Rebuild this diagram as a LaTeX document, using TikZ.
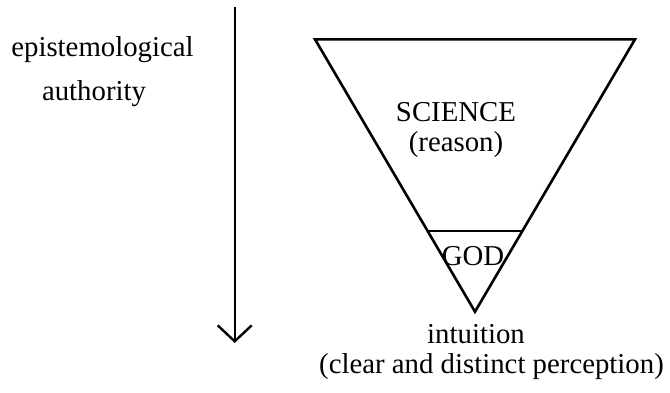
\documentclass[tikz,border=0pt]{standalone}
\usepackage{fontspec}
\setmainfont{Liberation Serif}
\usetikzlibrary{arrows.meta,calc}
\tikzset{
  lbl/.style={anchor=base,inner sep=0pt,font=\fontsize{14.4}{17}\selectfont},
  shape line/.style={line width=1.3pt,line join=miter},
  axis arrow/.style={line width=1.2pt,-{Straight Barb[length=8pt,width=17pt,line width=1.2pt]}}
}
\begin{document}
\begin{tikzpicture}[x=0.5pt,y=-0.5pt]
\useasboundingbox (0,0) rectangle (670,392);
% arrow
\coordinate (atop) at (234.7,7);
\coordinate (abot) at (234.7,343);
\draw[axis arrow] (atop) -- (abot);
% labels left
\node[lbl] (epi) at (102.5,56.7) {epistemological};
\node[lbl] (auth) at (94,100) {authority};
% triangle
\coordinate (tl) at (315,39.3);
\coordinate (tr) at (635,39.3);
\coordinate (ap) at (475,311.7);
\draw[shape line] (tl) -- (tr) -- (ap) -- cycle;
\coordinate (gl) at ($(tl)!0.703!(ap)$);
\coordinate (gr) at ($(tr)!0.703!(ap)$);
\draw[shape line] (gl) -- (gr);
% inner labels
\node[lbl] (sci) at (456,121.7) {SCIENCE};
\node[lbl] (rea) at (456,151.7) {(reason)};
\node[lbl] (god) at (473,265) {GOD};
\node[lbl] (int) at (476,343) {intuition};
\node[lbl] (cdp) at (491.5,373) {(clear and distinct perception)};
\end{tikzpicture}
\end{document}
